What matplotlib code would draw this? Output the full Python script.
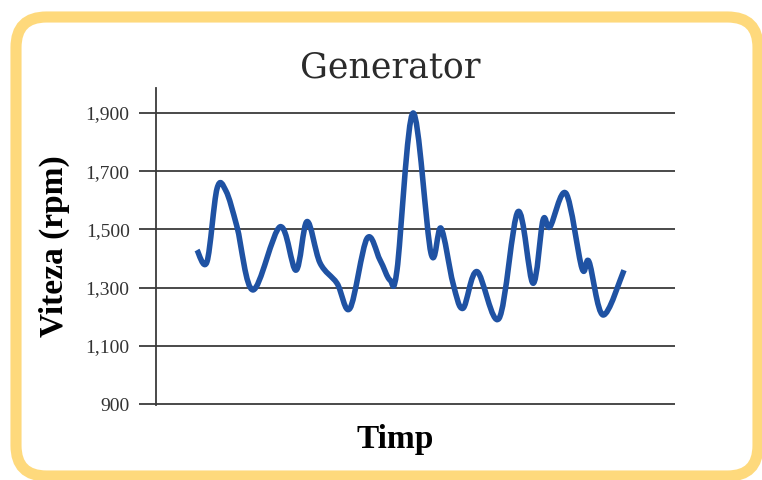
import numpy as np
import matplotlib
matplotlib.use("Agg")
import matplotlib.pyplot as plt
from matplotlib.path import Path
from matplotlib.patches import PathPatch, FancyBboxPatch

# time index (arbitrary units) and generator speed
timp = [4.1, 5.1, 6.1, 7.0, 8.1, 9.7, 12.4, 14.0, 15.1, 16.4, 18.1, 19.4,
        21.1, 22.4, 23.4, 24.1, 25.7, 27.5, 28.5, 29.7, 30.7, 32.1, 34.3,
        36.2, 37.7, 38.7, 39.4, 41.0, 42.6, 43.3, 44.7, 46.8]
viteza = [1429, 1389, 1640, 1632, 1509, 1292, 1509, 1360, 1527, 1385, 1315, 1229,
          1469, 1395, 1326, 1360, 1900, 1418, 1504, 1315, 1229, 1355, 1194,
          1561, 1315, 1532, 1509, 1624, 1366, 1389, 1206, 1360]
yticks = [900, 1100, 1300, 1500, 1700, 1900]
ytick_labels = ["900", "1,100", "1,300", "1,500", "1,700", "1,900"]

blue = "#1f52a3"
grid_col = "#3a3a3a"


def smooth_path(x, y, t=1/6):
    # Catmull-Rom style bezier through the points (like a "smoothed line")
    x = np.asarray(x, float)
    y = np.asarray(y, float)
    verts = [(x[0], y[0])]
    codes = [Path.MOVETO]
    n = len(x)
    for i in range(n - 1):
        i0 = max(i - 1, 0)
        i3 = min(i + 2, n - 1)
        c1 = (x[i] + (x[i + 1] - x[i0]) * t, y[i] + (y[i + 1] - y[i0]) * t)
        c2 = (x[i + 1] - (x[i3] - x[i]) * t, y[i + 1] - (y[i3] - y[i]) * t)
        verts += [c1, c2, (x[i + 1], y[i + 1])]
        codes += [Path.CURVE4] * 3
    return Path(verts, codes)


fig = plt.figure(figsize=(7.62, 4.8), dpi=100)

# rounded yellow frame
frame = FancyBboxPatch((16 / 762, 4 / 480), 742 / 762, 459 / 480,
                       boxstyle="round,pad=0,rounding_size=0.04",
                       transform=fig.transFigure, facecolor="white",
                       edgecolor="#fed97c", linewidth=8,
                       mutation_aspect=762 / 480, zorder=-5)
fig.patches.append(frame)

ax = fig.add_axes([156 / 762, 1 - 404.9 / 480, 519 / 762, 316.9 / 480])
ax.set_facecolor("none")

ax.add_patch(PathPatch(smooth_path(timp, viteza), facecolor="none",
                       edgecolor=blue, linewidth=4, capstyle="butt",
                       joinstyle="round", zorder=3))

ax.set_xlim(0, 51.9)
ax.set_ylim(897, 1986)
ax.set_yticks(yticks)
ax.set_yticklabels(ytick_labels, fontfamily="Liberation Serif", fontsize=14,
                   color="#333333")
ax.set_xticks([])
ax.yaxis.grid(True, color=grid_col, linewidth=1.3)
ax.set_axisbelow(True)
for s in ["top", "right", "bottom"]:
    ax.spines[s].set_visible(False)
ax.spines["left"].set_color(grid_col)
ax.spines["left"].set_linewidth(1.3)
ax.tick_params(axis="y", length=12, width=1.3, color=grid_col, pad=7)

fig.text(390 / 762, 1 - 77 / 480, "Generator", ha="center", va="baseline",
         fontfamily="DejaVu Serif", fontsize=25, color="#2b2b2b")
fig.text(54 / 762, 1 - 246 / 480, "Viteza (rpm)", ha="center", va="center",
         rotation=90, fontfamily="Liberation Serif", fontweight="bold",
         fontsize=24, color="black")
fig.text(395 / 762, 1 - 448 / 480, "Timp", ha="center", va="baseline",
         fontfamily="Liberation Serif", fontweight="bold", fontsize=24,
         color="black")

fig.savefig("out.png", dpi=100)
